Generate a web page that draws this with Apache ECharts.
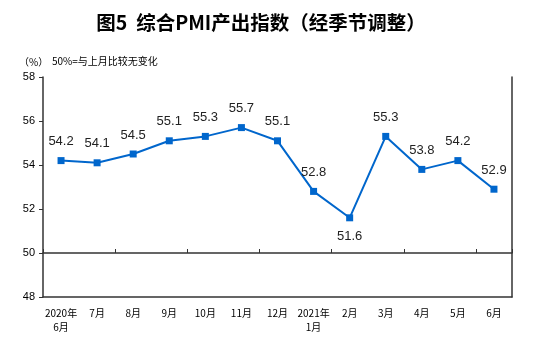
<!DOCTYPE html>
<html><head><meta charset="utf-8">
<script src="https://cdn.jsdelivr.net/npm/echarts@6/dist/echarts.min.js"></script>
<style>html,body{margin:0;padding:0;background:#fff}#c{width:554px;height:345px}</style>
</head><body><div id="c"></div>
<script>
const categories = ['2020年\n6月','7月','8月','9月','10月','11月','12月','2021年\n1月','2月','3月','4月','5月','6月'];
const values = [54.2,54.1,54.5,55.1,55.3,55.7,55.1,52.8,51.6,55.3,53.8,54.2,52.9];
const yTicks = [48,50,52,54,56,58];
const belowIdx = [8];

const chart = echarts.init(document.getElementById('c'));
const cjk = '"Noto Sans CJK SC", sans-serif';
chart.setOption({
  animation:false,
  backgroundColor:'#fff',
  title:[
    {text:'图5  综合PMI产出指数（经季节调整）', left:256, top:8, textAlign:'center',
     textStyle:{fontFamily:cjk, fontSize:19.5, fontWeight:'bold', color:'#000'}},
    {text:'（%）', left:14, top:52, textStyle:{fontFamily:cjk, fontSize:10, fontWeight:'normal', color:'#000'}},
    {text:'50%=与上月比较无变化', left:47, top:51, textStyle:{fontFamily:cjk, fontSize:10, fontWeight:'normal', color:'#000'}}
  ],
  grid:[
    {left:43, top:77, right:42, bottom:48},
    {left:43, top:77, right:42, bottom:92}
  ],
  xAxis:[
    {type:'category', gridIndex:0, data:categories, boundaryGap:true,
     axisLine:{lineStyle:{color:'#333', width:1.5}}, axisTick:{show:false},
     axisLabel:{interval:0, fontFamily:cjk, fontSize:10, color:'#000', margin:9, lineHeight:14}},
    {type:'category', gridIndex:1, data:categories, boundaryGap:true, position:'bottom',
     axisLine:{lineStyle:{color:'#333', width:1.5}},
     axisTick:{show:true, inside:true, length:4, lineStyle:{color:'#333'}},
     axisLabel:{show:false}}
  ],
  yAxis:[
    {type:'value', gridIndex:0, min:48, max:58, interval:2,
     axisLine:{show:true, lineStyle:{color:'#333', width:1.5}},
     axisTick:{show:true, length:4, lineStyle:{color:'#333'}},
     splitLine:{show:false},
     axisLabel:{fontFamily:'Arial, "Liberation Sans", sans-serif', fontSize:11, color:'#000', margin:8,
       formatter:v=>yTicks.includes(v)?String(v):''}},
    {type:'value', gridIndex:0, position:'right', min:48, max:58, interval:2,
     axisLine:{show:true, lineStyle:{color:'#333', width:1.5}},
     axisTick:{show:false}, axisLabel:{show:false}, splitLine:{show:false}},
    {type:'value', gridIndex:1, show:false, min:50, max:58}
  ],
  series:[{
    type:'line', xAxisIndex:0, yAxisIndex:0,
    data:values.map((v,i)=>({value:v, label:{position: belowIdx.includes(i)?'bottom':'top'}})),
    symbol:'rect', symbolSize:7,
    lineStyle:{color:'#0066cc', width:2},
    itemStyle:{color:'#0066cc'},
    label:{show:true, fontFamily:'Arial, "Liberation Sans", sans-serif', fontSize:13, color:'#222', distance:9,
      formatter:p=>p.value.toFixed(1)}
  }]
});
</script></body></html>
